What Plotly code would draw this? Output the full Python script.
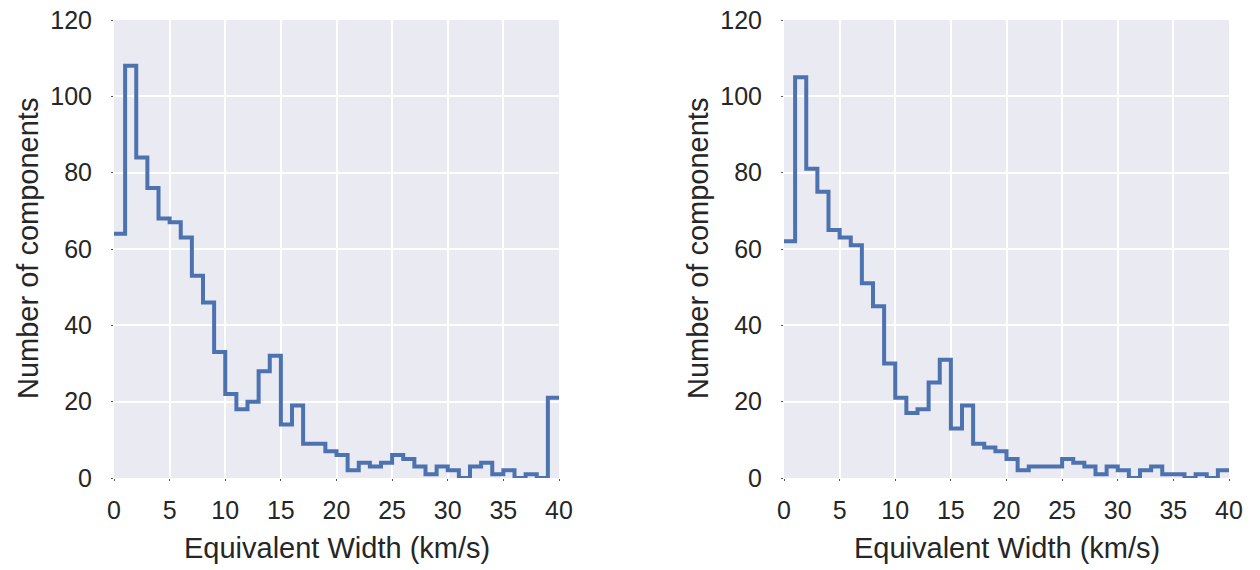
import plotly.graph_objects as go

# Histogram bins (km/s): width-1 bins from 0 to 40
bin_edges = list(range(0, 41))

counts_left = [64, 108, 84, 76, 68, 67, 63, 53, 46, 33,
               22, 18, 20, 28, 32, 14, 19, 9, 9, 7,
               6, 2, 4, 3, 4, 6, 5, 3, 1, 3,
               2, 0, 3, 4, 1, 2, 0, 1, 0, 21]

counts_right = [62, 105, 81, 75, 65, 63, 61, 51, 45, 30,
                21, 17, 18, 25, 31, 13, 19, 9, 8, 7,
                5, 2, 3, 3, 3, 5, 4, 3, 1, 3,
                2, 0, 2, 3, 1, 1, 0, 1, 0, 2]

x_ticks = [0, 5, 10, 15, 20, 25, 30, 35, 40]
y_ticks = [0, 20, 40, 60, 80, 100, 120]
x_title = "Equivalent Width (km/s)"
y_title = "Number of components"

LINE_COLOR = "#4C72B0"
BG = "#EAEAF2"
TXT = "#262626"
FONT = "Liberation Sans, Arial, sans-serif"

W, H = 1260, 570

fig = go.Figure()
for i, counts in enumerate([counts_left, counts_right]):
    sfx = "" if i == 0 else str(i + 1)
    fig.add_trace(go.Scatter(
        x=bin_edges, y=counts + [counts[-1]],
        mode="lines", line=dict(shape="hv", color=LINE_COLOR, width=4),
        xaxis="x" + sfx, yaxis="y" + sfx, showlegend=False, hoverinfo="skip"))

# pixel-based domains
def px_x(p):
    return p / W

def px_y(p):
    return (H - p) / H

left_dom = [px_x(114), px_x(559)]
right_dom = [px_x(784), px_x(1229)]
y_dom = [px_y(478), px_y(20)]

ax_common = dict(
    showgrid=True, gridcolor="white", gridwidth=2,
    zeroline=False, showline=False, automargin=False,
    ticks="outside", ticklen=2, tickwidth=1, tickcolor="#555555",
    tickfont=dict(size=25, color=TXT, family=FONT),
)

layout = dict(
    width=W, height=H,
    margin=dict(l=0, r=0, t=0, b=0, autoexpand=False),
    paper_bgcolor="white", plot_bgcolor=BG,
    font=dict(family=FONT, color=TXT),
)
for i, dom in enumerate([left_dom, right_dom]):
    sfx = "" if i == 0 else str(i + 1)
    layout["xaxis" + sfx] = dict(ax_common, domain=dom, range=[0, 40],
                                 tickvals=x_ticks, anchor="y" + sfx,
                                 ticklabelstandoff=8)
    layout["yaxis" + sfx] = dict(ax_common, domain=y_dom, range=[0, 120],
                                 tickvals=y_ticks, anchor="x" + sfx,
                                 ticklabelstandoff=14)

fig.update_layout(**layout)

annotations = []
for dom, ytx in [(left_dom, 28), (right_dom, 698)]:
    annotations.append(dict(
        text=x_title, xref="paper", yref="paper",
        x=(dom[0] + dom[1]) / 2, y=px_y(548),
        xanchor="center", yanchor="middle", showarrow=False,
        font=dict(size=29, color=TXT, family=FONT)))
    annotations.append(dict(
        text=y_title, xref="paper", yref="paper",
        x=px_x(ytx), y=px_y(249), textangle=-90,
        xanchor="center", yanchor="middle", showarrow=False,
        font=dict(size=29, color=TXT, family=FONT)))
fig.update_layout(annotations=annotations)

fig.write_html("out.html")
